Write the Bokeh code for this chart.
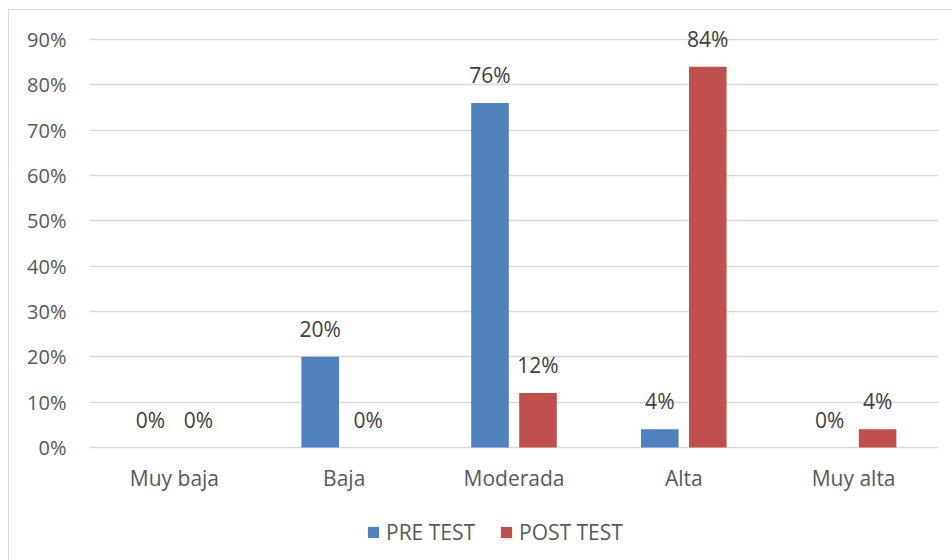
from bokeh.plotting import figure
from bokeh.models import (ColumnDataSource, Range1d, FixedTicker, NumeralTickFormatter,
                          Legend, LegendItem)
from bokeh.transform import dodge
from bokeh.core.properties import value
from bokeh.embed import file_html
from bokeh.resources import INLINE

categories = ["Muy baja", "Baja", "Moderada", "Alta", "Muy alta"]
pre_test = [0.0, 0.20, 0.76, 0.04, 0.0]
post_test = [0.0, 0.0, 0.12, 0.84, 0.04]
pre_labels = ["0%", "20%", "76%", "4%", "0%"]
post_labels = ["0%", "0%", "12%", "84%", "4%"]
y_ticks = [0.0, 0.1, 0.2, 0.3, 0.4, 0.5, 0.6, 0.7, 0.8, 0.9]

BLUE = "#4F81BD"
RED = "#C0504D"
FONT = "Open Sans"
FS = "21px"

# layout (pixels): value 0 at y=447, 90% at y=39; frame extended up/down to hold labels and legend
W, H = 952, 560
FRAME_TOP, TOP, ZERO, BOTTOM = 12, 39, 447, 558
top_tick = 0.9
per_px = top_tick / (ZERO - TOP)
y_max = top_tick + per_px * (TOP - FRAME_TOP)
y_min = -per_px * (BOTTOM - ZERO)

src = ColumnDataSource(dict(cat=categories, pre=pre_test, post=post_test,
                            pre_lbl=pre_labels, post_lbl=post_labels))

p = figure(x_range=categories, y_range=Range1d(y_min, y_max), width=W, height=H,
           output_backend="svg", toolbar_location=None,
           min_border_left=89, min_border_right=14, min_border_top=FRAME_TOP,
           min_border_bottom=H - BOTTOM)
p.outline_line_color = None
p.border_fill_color = None
p.border_fill_alpha = 0
p.styles = {"background": "linear-gradient(#D9D9D9, #D9D9D9) 8px 9px / 1px 100% no-repeat, "
                          "linear-gradient(#D9D9D9, #D9D9D9) 8px 9px / 100% 1px no-repeat, white"}

off = 0.1413
bw = 0.2214
r_pre = p.vbar(x=dodge("cat", -off, range=p.x_range), top="pre", width=bw, source=src,
               fill_color=BLUE, line_color=None)
r_post = p.vbar(x=dodge("cat", off, range=p.x_range), top="post", width=bw, source=src,
                fill_color=RED, line_color=None)

for ycol, lcol, o in [("pre", "pre_lbl", -off), ("post", "post_lbl", off)]:
    p.text(x=dodge("cat", o, range=p.x_range), y=ycol, text=lcol, source=src,
           text_font=value(FONT), text_font_size=FS, text_color="#404040",
           text_align="center", text_baseline="alphabetic", y_offset=-28)

# category labels just under the zero line
p.text(x="cat", y=0, text="cat", source=src,
       text_font=value(FONT), text_font_size=FS, text_color="#595959",
       text_align="center", text_baseline="alphabetic", y_offset=30)

p.xaxis.visible = False
p.xgrid.grid_line_color = None
p.ygrid.ticker = FixedTicker(ticks=y_ticks)
p.ygrid.grid_line_color = "#D9D9D9"
p.ygrid.grid_line_width = 1.3

p.yaxis.ticker = FixedTicker(ticks=y_ticks)
p.yaxis.formatter = NumeralTickFormatter(format="0%")
p.yaxis.axis_line_color = None
p.yaxis.major_tick_line_color = None
p.yaxis.minor_tick_line_color = None
p.yaxis.major_label_text_font = FONT
p.yaxis.major_label_text_font_size = "20px"
p.yaxis.major_label_text_color = "#595959"
p.yaxis.major_label_standoff = 17

legend = Legend(items=[LegendItem(label="PRE TEST", renderers=[r_pre]),
                       LegendItem(label="POST TEST", renderers=[r_post])],
                orientation="horizontal", location=(277, 12),
                label_text_font=FONT, label_text_font_size=FS, label_text_color="#595959",
                glyph_width=14, glyph_height=14, label_standoff=6, spacing=24,
                border_line_color=None, background_fill_alpha=0, margin=0, padding=0)
p.add_layout(legend, "center")

open("out.html", "w").write(file_html(p, INLINE))
